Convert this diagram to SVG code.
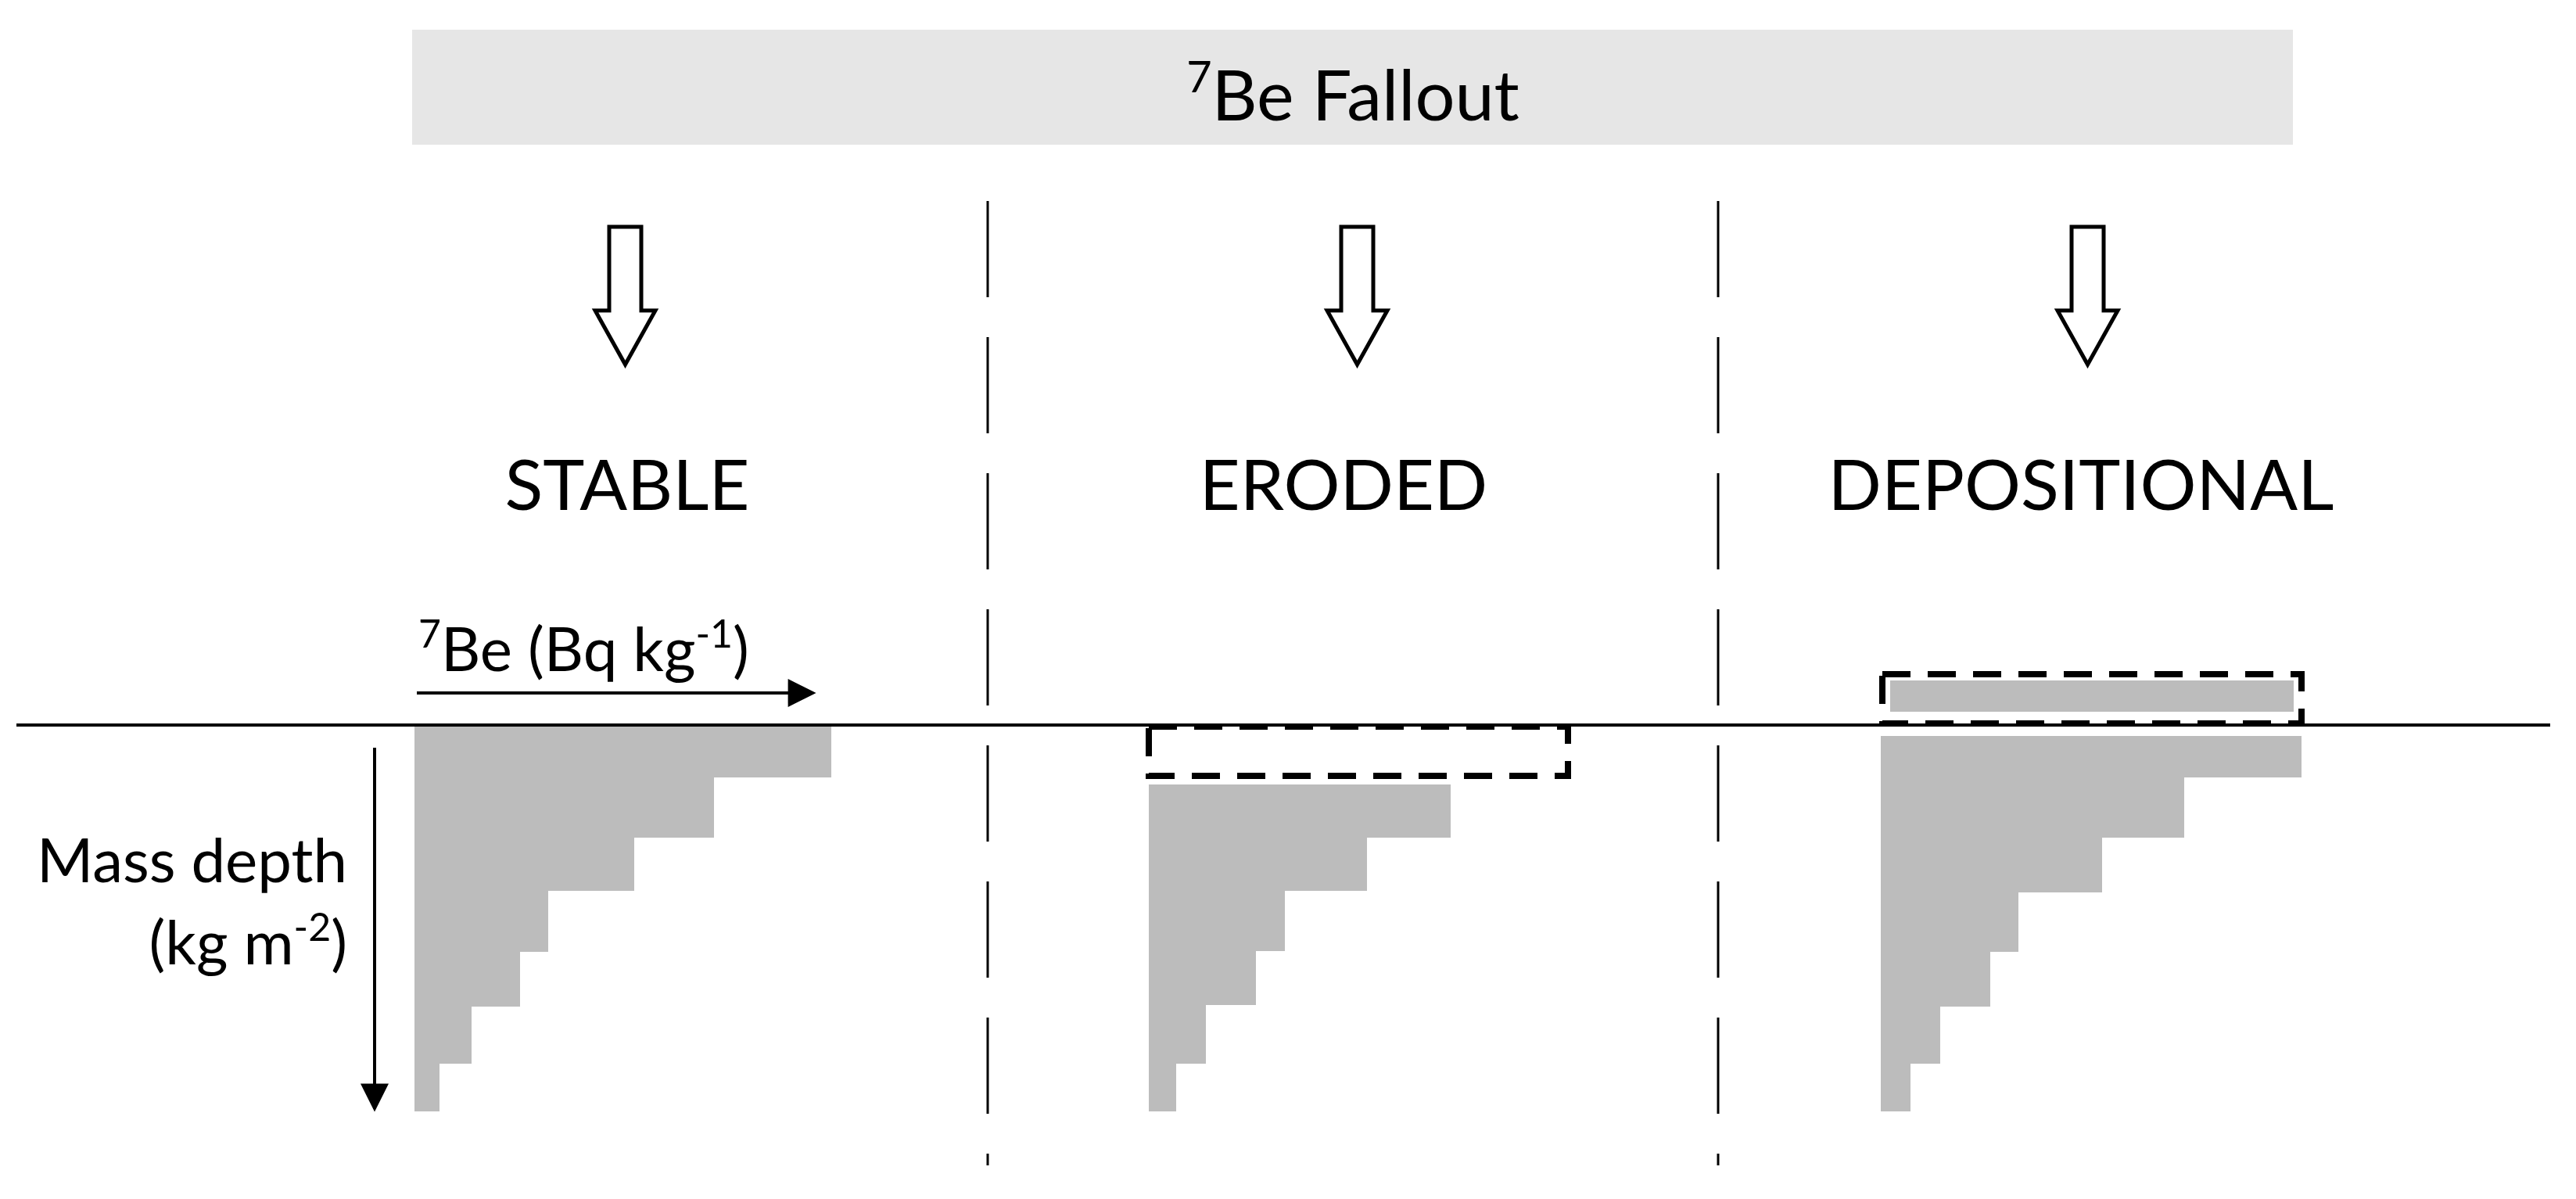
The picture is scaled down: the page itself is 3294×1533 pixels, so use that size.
<svg xmlns="http://www.w3.org/2000/svg" width="3294" height="1533" viewBox="0 0 3294 1533">
<style>
text{font-family:Lato,"Open Sans","Liberation Sans",sans-serif;fill:#000}
.h{font-size:90px;text-anchor:middle}
.l{font-size:78px}
.prof{fill:#bcbcbc}
.dash{fill:none;stroke:#000;stroke-width:8;stroke-dasharray:36 22}
.sep{stroke:#000;stroke-width:3;stroke-dasharray:123 51}
.fa{fill:#fff;stroke:#000;stroke-width:5;stroke-linejoin:miter}
</style>
<defs>
<marker id="ah" markerWidth="10" markerHeight="10" refX="9" refY="5" orient="auto" markerUnits="userSpaceOnUse" viewBox="0 0 10 10"><path d="M0,0 L10,5 L0,10 Z" fill="#000"/></marker>
<marker id="ah2" viewBox="0 0 10 10" refX="9" refY="5" markerWidth="40" markerHeight="36" orient="auto" markerUnits="userSpaceOnUse"><path d="M0,0 L10,5 L0,10 Z" fill="#000"/></marker>
</defs>
<rect width="3294" height="1533" fill="#fff"/>
<g id="banner">
<rect x="527" y="38" width="2405" height="147" fill="#e6e6e6"/>
<text class="h" x="1730" y="154"><tspan font-size="56" dy="-36">7</tspan><tspan dy="36">Be Fallout</tspan></text>
</g>
<g id="separators">
<line class="sep" x1="1263" y1="257" x2="1263" y2="1490"/>
<line class="sep" x1="2197" y1="257" x2="2197" y2="1490"/>
</g>
<g id="ground"><line x1="21" y1="927" x2="3261" y2="927" stroke="#000" stroke-width="4"/></g>
<g id="fallout-arrows">
<path class="fa" d="M779,290 H820 V397 H838 L799.5,466 L761,397 H779 Z"/>
<path class="fa" d="M1715,290 H1756 V397 H1774 L1735.5,466 L1697,397 H1715 Z"/>
<path class="fa" d="M2649,290 H2690 V397 H2708 L2669.5,466 L2631,397 H2649 Z"/>
</g>
<g id="stable">
<text class="h" x="802" y="652">STABLE</text>
<path class="prof" d="M530,929 H1063 V994 H913 V1071 H811 V1139 H701 V1217 H665 V1287 H603 V1360 H562 V1421 H530 Z"/>
</g>
<g id="eroded">
<text class="h" x="1718" y="652">ERODED</text>
<path class="prof" d="M1469,1003 H1855 V1071 H1748 V1139 H1643 V1216 H1606 V1285 H1542 V1360 H1504 V1421 H1469 Z"/>
<rect class="dash" x="1469" y="929" width="536" height="63"/>
</g>
<g id="depositional">
<text class="h" x="2661" y="652">DEPOSITIONAL</text>
<rect class="prof" x="2417" y="870" width="516" height="40"/>
<path class="prof" d="M2405,941 H2943 V994 H2793 V1071 H2688 V1141 H2581 V1217 H2545 V1287 H2481 V1360 H2443 V1421 H2405 Z"/>
<rect class="dash" x="2407" y="862" width="536" height="63"/>
</g>
<g id="axes">
<line x1="533" y1="886" x2="1040" y2="886" stroke="#000" stroke-width="4" marker-end="url(#ah2)"/>
<line x1="479" y1="956" x2="479" y2="1418" stroke="#000" stroke-width="4" marker-end="url(#ah2)"/>
<text class="l" x="535" y="858"><tspan font-size="50" dy="-30">7</tspan><tspan dy="30">Be (Bq kg</tspan><tspan font-size="50" dy="-30">-1</tspan><tspan dy="30">)</tspan></text>
<text class="l" x="444" y="1128" text-anchor="end">Mass depth</text>
<text class="l" x="444" y="1233" text-anchor="end">(kg m<tspan font-size="50" dy="-30">-2</tspan><tspan dy="30">)</tspan></text>
</g>
</svg>
